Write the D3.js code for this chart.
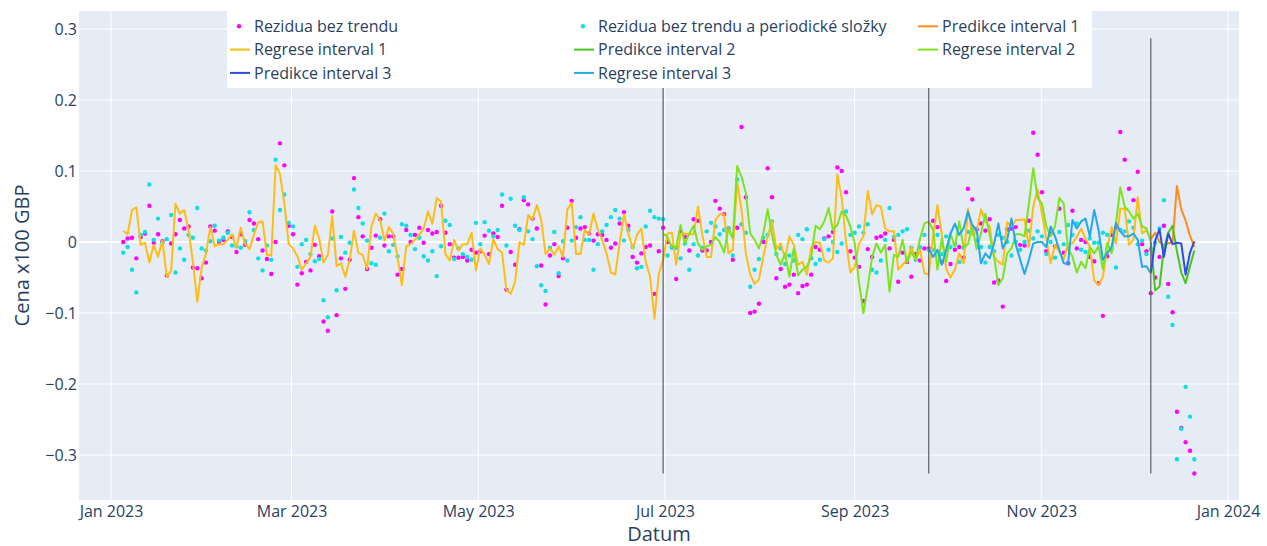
<!DOCTYPE html>
<html><head><meta charset="utf-8">
<script src="https://cdn.jsdelivr.net/npm/d3@7"></script>
<style>body{margin:0;background:#fff}svg{display:block;font-family:"Open Sans",sans-serif}</style>
</head><body><svg id="c" width="1267" height="546"></svg>
<script>
// ---- data ----
const firstDate = "2023-01-05", lastDate = "2023-12-21";
// Rezidua bez trendu (one value per sample, 247 samples)
const rezidua = [
0,.005,.006,-.023,.007,.012,.051,-.001,.011,.001,
-.047,-.002,.011,.031,.019,.022,-.036,-.037,-.051,-.029,
.022,.016,0,.003,.015,.007,-.014,.011,-.004,.031,
.026,.004,-.012,-.024,-.045,0,.139,.108,.023,.011,
-.06,-.044,-.028,-.04,-.004,-.02,-.112,-.125,.043,-.103,
-.023,-.066,-.025,.09,.035,.008,-.038,-.008,.009,.032,
-.005,.008,.008,-.046,-.038,.017,0,.01,.02,-.001,
.017,.012,.014,.051,.013,-.003,-.022,-.022,-.021,-.026,
-.011,-.015,-.013,.009,-.017,.012,.007,.051,-.067,-.014,
-.032,.018,.059,.053,.033,.019,-.033,-.088,-.019,-.003,
-.048,-.023,.02,.058,.006,.019,.021,.012,.002,.011,
.01,.003,-.008,-.002,.026,.042,.023,-.021,-.029,-.016,
-.007,-.005,-.073,-.013,.02,0,-.007,-.052,.014,.007,
-.012,.032,.03,-.012,-.012,0,.058,.047,.039,.019,
-.025,.02,.162,.063,-.1,-.098,-.087,0,.104,.063,
-.051,-.038,-.063,-.06,-.046,-.072,-.062,-.06,-.046,-.007,
-.011,.005,.008,.014,.105,.1,.07,-.013,-.022,-.035,
-.083,-.01,-.021,.006,.008,.012,-.009,.003,-.056,-.015,
-.028,-.049,-.017,-.026,-.009,-.009,.03,.021,-.028,-.055,
-.031,-.011,-.007,-.022,.075,.06,.018,.026,.016,.032,
-.057,-.054,-.091,.018,.019,.021,-.004,-.005,.03,.154,
.123,.07,-.013,.012,-.006,.047,-.015,-.03,.044,-.009,
.003,0,-.021,-.027,-.058,-.104,-.02,.01,.02,.155,
.116,.075,.059,.099,-.003,-.013,-.072,-.05,-.021,.023,
-.059,-.099,-.239,-.262,-.282,-.294,-.326];
// Rezidua bez trendu a periodické složky
const reziduaPer = [
-.015,-.007,-.039,-.071,.01,.014,.081,.003,.033,-.001,
.004,.038,-.043,-.009,-.025,.01,.006,.048,-.009,-.012,
.001,.023,.002,.006,.013,-.005,-.006,-.008,.001,.042,
.017,-.023,-.04,-.005,-.025,.116,.045,.067,.027,.022,
-.035,-.003,.003,-.017,-.027,-.024,-.082,-.106,.005,-.068,
.007,-.015,-.001,.074,.048,.026,.002,-.03,-.032,.006,
.04,-.013,-.004,-.02,.025,.023,.01,-.01,.006,-.02,
-.026,-.013,-.048,-.006,.03,.024,-.024,-.009,-.017,-.021,
-.025,.027,-.003,.028,.016,.008,.017,.067,-.005,.061,
.023,.017,.063,.015,.004,-.034,-.061,-.069,-.008,.014,
-.044,.001,-.026,.002,.021,.035,.003,.003,-.039,-.003,
.015,.024,.035,.045,.033,.002,.017,-.007,-.037,-.035,
.022,.044,.035,.033,.032,-.019,-.008,-.008,-.023,-.002,
-.039,-.003,-.019,-.008,.015,.027,.022,.011,.017,.019,
-.019,.088,.025,.013,-.063,-.039,-.024,.006,.01,.029,
-.017,-.009,-.031,-.019,-.026,.01,.004,.018,-.023,-.031,
-.025,.004,-.011,0,-.014,-.002,.043,.01,.013,.022,
.013,.025,-.039,-.043,-.026,.003,.048,.007,.01,.015,
.018,-.008,-.025,-.007,.01,-.011,-.011,.01,-.017,.008,
-.007,-.003,-.028,-.008,.014,.02,.002,-.007,-.029,-.007,
-.013,.01,.006,0,-.019,0,-.011,0,.016,.005,
.015,.008,-.017,0,-.022,.014,-.003,.024,.01,.026,
-.011,-.014,.005,-.001,-.001,.013,.01,-.01,-.036,.017,
.015,.029,.02,-.003,.002,-.017,-.01,-.001,.019,.059,
-.077,-.117,-.306,-.263,-.204,-.246,-.306];
// Regrese interval 1 (samples 0..236)
const regrese1 = [
.016,.011,.045,.049,-.004,-.001,-.029,-.004,-.021,.002,
-.049,-.04,.054,.04,.045,.017,-.028,-.084,-.037,-.016,
.021,-.006,-.003,-.003,.003,.011,-.008,.02,-.003,-.01,
.01,.028,.029,-.018,-.019,.108,.096,.054,-.003,-.009,
-.02,-.039,-.03,-.021,.023,.005,-.029,-.018,.037,-.034,
-.03,-.049,-.025,.016,-.015,-.018,-.038,.022,.04,.031,
.002,.021,.012,-.021,-.061,-.006,-.003,.003,.01,.019,
.043,.026,.062,.057,-.017,-.026,.003,-.012,-.003,-.003,
.013,-.04,-.009,-.018,-.031,.004,-.01,-.015,-.067,-.073,
-.056,0,-.004,.038,.032,.052,.031,-.017,-.009,-.018,
-.006,-.021,.046,.055,-.017,-.017,.017,.01,.04,.017,
.003,-.016,-.043,-.046,-.002,.039,.012,-.009,.01,.019,
-.028,-.049,-.108,-.045,-.025,.012,.013,-.032,.012,.012,
.011,.011,.05,.01,-.021,-.021,.031,.039,.039,-.016,
-.011,.085,.045,-.016,-.046,-.059,-.053,-.021,.008,.029,
-.01,-.002,-.023,.008,-.004,-.032,-.028,-.046,-.008,0,
-.001,-.026,-.029,-.023,.095,.063,0,-.043,-.035,-.002,
.008,.072,.039,.052,.05,.019,.015,.015,-.039,-.032,
-.025,-.007,-.025,-.011,-.044,-.046,.008,.052,.01,-.038,
-.05,-.039,-.016,-.03,.047,.01,.015,.046,.029,.022,
-.021,-.028,-.032,.028,.022,.031,.031,.032,-.007,.05,
.074,.04,.005,-.03,-.004,-.014,-.025,-.002,-.002,.007,
.019,.005,-.007,-.054,-.061,-.049,-.009,.021,-.002,.047,
.047,-.004,.003,.063,.012,.017,.004];
// Regrese interval 2 (samples 124..236)
const regrese2 = [
.012,.007,-.007,-.007,.024,-.002,.012,.023,-.002,-.011,
-.006,-.004,.007,0,-.015,.019,.005,.107,.092,.069,
.012,.003,-.009,.012,.046,.01,-.018,-.032,-.016,-.049,
-.009,-.047,-.039,-.035,-.021,.023,.018,.029,.048,.017,
.024,.043,.037,.022,-.002,-.058,-.1,-.063,-.021,-.002,
-.015,-.004,-.07,-.018,-.021,.003,-.029,-.014,-.025,.005,
.026,.029,.017,-.039,.005,-.028,.012,-.007,.029,-.008,
-.003,.022,-.01,.012,.04,.01,-.021,-.061,-.051,-.016,
-.009,.011,.011,.008,.054,.104,.062,.054,.022,.008,
.022,.062,.054,-.011,-.02,-.043,-.028,-.037,-.007,-.016,
-.006,-.038,-.001,-.016,.026,.077,.05,.043,.033,.04,
.022,.019,0];
// Regrese interval 3 (samples 185..236)
const regrese3 = [
-.009,-.021,-.011,-.032,-.011,.012,.026,.01,.019,.043,
.024,.017,-.03,-.016,-.023,-.002,.026,-.009,.003,.033,
-.004,-.025,-.045,-.025,-.002,0,0,-.007,.022,.008,
-.011,-.03,-.031,.031,.019,.029,.033,.008,.045,.017,
-.025,-.016,-.007,.027,.015,.008,.008,.012,.003,-.035,
-.034,-.044];
// Predictions (samples 236..246)
const predikce1 = [.004,.013,0,-.005,-.002,0,.079,.046,.03,.009,-.007];
const predikce2 = [0,-.068,-.063,-.009,.013,.023,-.013,-.043,-.058,-.034,-.012];
const predikce3 = [-.044,.002,.018,-.021,.012,-.003,-.001,-.002,-.046,-.015,.001];
const start2 = 124, start3 = 185, startPred = 236;
const splitIdx = [124, 185, 236];
const vLineRange = [-0.326, 0.287];
const xTickDates = ["2023-01-01","2023-03-01","2023-05-01","2023-07-01","2023-09-01","2023-11-01","2024-01-01"];
const yTickValues = [-0.3,-0.2,-0.1,0,0.1,0.2,0.3];
const xDomain = ["2022-12-21T13:02:00Z","2024-01-04T14:15:00Z"];
const yDomain = [-0.3634, 0.3254];

// ---- drawing ----
const P = {l:79, r:1239, t:11, b:500};
const txt = "#2a3f5f";
const svg = d3.select("#c");
const n = rezidua.length;
const t0 = Date.parse(firstDate), t1 = Date.parse(lastDate);
const dates = d3.range(n).map(i => new Date(t0 + (t1 - t0) * i / (n - 1)));
const x = d3.scaleUtc().domain(xDomain.map(d => new Date(d))).range([P.l, P.r]);
const y = d3.scaleLinear().domain(yDomain).range([P.b, P.t]);

svg.append("rect").attr("x",P.l).attr("y",P.t).attr("width",P.r-P.l).attr("height",P.b-P.t).attr("fill","#E5ECF6");
const g = svg.append("g");
g.selectAll(".gx").data(xTickDates).join("line")
 .attr("x1",d=>x(new Date(d))).attr("x2",d=>x(new Date(d))).attr("y1",P.t).attr("y2",P.b)
 .attr("stroke","#fff").attr("stroke-width",1);
g.selectAll(".gy").data(yTickValues.filter(v=>v!==0)).join("line")
 .attr("x1",P.l).attr("x2",P.r).attr("y1",d=>y(d)).attr("y2",d=>y(d))
 .attr("stroke","#fff").attr("stroke-width",1);
g.append("line").attr("x1",P.l).attr("x2",P.r).attr("y1",y(0)).attr("y2",y(0)).attr("stroke","#fff").attr("stroke-width",2);

// axes
const fmtX = d3.utcFormat("%b %Y");
const ax = svg.append("g").attr("transform",`translate(0,${P.b})`)
 .call(d3.axisBottom(x).tickValues(xTickDates.map(d=>new Date(d))).tickFormat(fmtX).tickSize(0).tickPadding(6));
ax.select(".domain").remove();
ax.selectAll("text").attr("font-size",16).attr("fill",txt).attr("font-family","Open Sans");
const ay = svg.append("g").attr("transform",`translate(${P.l},0)`)
 .call(d3.axisLeft(y).tickValues(yTickValues).tickFormat(d=>d===0?"0":d3.format(".1f")(d)).tickSize(0).tickPadding(2));
ay.select(".domain").remove();
ay.selectAll("text").attr("font-size",16).attr("fill",txt).attr("font-family","Open Sans");

svg.append("text").attr("x",(P.l+P.r)/2).attr("y",541).attr("text-anchor","middle")
 .attr("font-size",20).attr("fill",txt).text("Datum");
svg.append("text").attr("transform",`translate(29,${(P.t+P.b)/2}) rotate(-90)`).attr("text-anchor","middle")
 .attr("font-size",20).attr("fill",txt).text("Cena x100 GBP");

// traces
const plot = svg.append("g");
const colors = {
  rez:"#ff00ff", per:"#12dde2",
  p1:"#ff8c1a", r1:"#ffbd14", p2:"#4ac41c", r2:"#7be41b", p3:"#2a4de6", r3:"#20a8ec"
};
function dots(arr,col){
  plot.append("g").selectAll("circle").data(arr).join("circle")
   .attr("cx",(d,i)=>x(dates[i])).attr("cy",d=>y(d)).attr("r",2.2).attr("fill",col);
}
function line(arr,off,col){
  const gen = d3.line().x((d,i)=>x(dates[off+i])).y(d=>y(d));
  plot.append("path").datum(arr).attr("d",gen).attr("fill","none").attr("stroke",col)
   .attr("stroke-width",2).attr("stroke-linejoin","round");
}
dots(rezidua, colors.rez);
dots(reziduaPer, colors.per);
line(predikce1, startPred, colors.p1);
line(regrese1, 0, colors.r1);
line(predikce2, startPred, colors.p2);
line(regrese2, start2, colors.r2);
line(predikce3, startPred, colors.p3);
line(regrese3, start3, colors.r3);

// vertical split lines
svg.append("g").selectAll("line").data(splitIdx).join("line")
 .attr("x1",d=>x(dates[d])).attr("x2",d=>x(dates[d]))
 .attr("y1",y(vLineRange[1])).attr("y2",y(vLineRange[0]))
 .attr("stroke","#5f5f5f").attr("stroke-width",1.2);

// legend
const legendItems = [
 {name:"Rezidua bez trendu", type:"dot", c:colors.rez},
 {name:"Rezidua bez trendu a periodické složky", type:"dot", c:colors.per},
 {name:"Predikce interval 1", type:"line", c:colors.p1},
 {name:"Regrese interval 1", type:"line", c:colors.r1},
 {name:"Predikce interval 2", type:"line", c:colors.p2},
 {name:"Regrese interval 2", type:"line", c:colors.r2},
 {name:"Predikce interval 3", type:"line", c:colors.p3},
 {name:"Regrese interval 3", type:"line", c:colors.r3}
];
const lg = svg.append("g");
lg.append("rect").attr("x",227).attr("y",11).attr("width",865).attr("height",77).attr("fill","#fff");
legendItems.forEach((it,k)=>{
  const col = k%3, row = Math.floor(k/3);
  const tx = 254 + col*344, cy = 26.3 + row*23.3;
  const gi = lg.append("g");
  if(it.type==="dot") gi.append("circle").attr("cx",tx-15).attr("cy",cy).attr("r",2.2).attr("fill",it.c);
  else gi.append("line").attr("x1",tx-24).attr("x2",tx-4).attr("y1",cy).attr("y2",cy).attr("stroke",it.c).attr("stroke-width",2);
  gi.append("text").attr("x",tx).attr("y",cy+5.6).attr("font-size",16).attr("fill",txt).text(it.name);
});
</script></body></html>
